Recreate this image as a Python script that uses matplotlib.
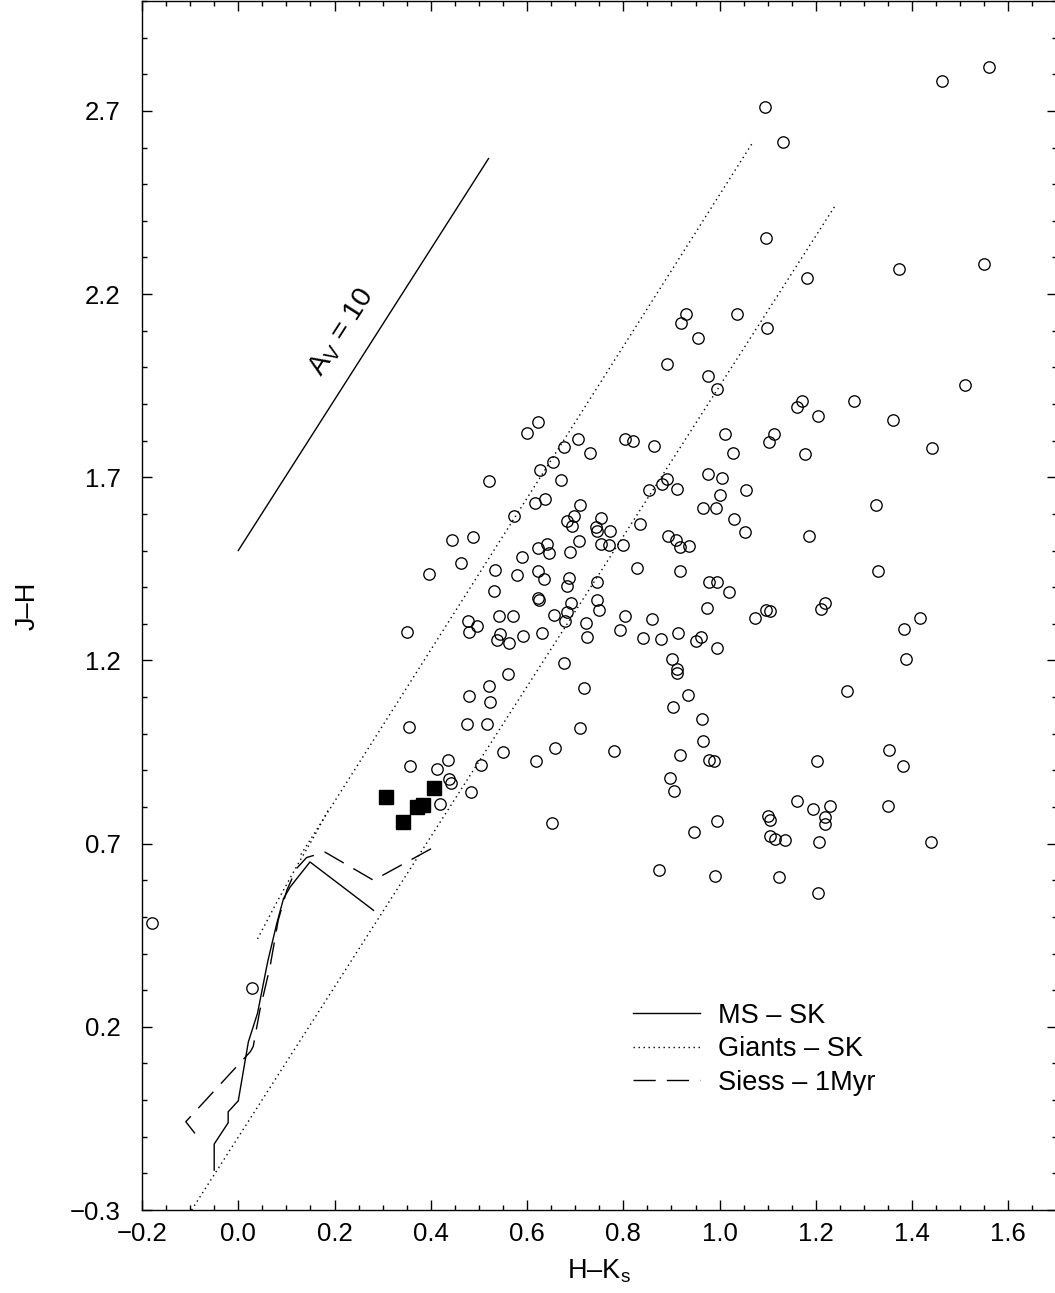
import matplotlib
matplotlib.use("Agg")
import matplotlib.pyplot as plt
from matplotlib.ticker import MultipleLocator, FixedLocator

plt.rcParams['font.family'] = ['Liberation Sans', 'DejaVu Sans']
plt.rcParams['mathtext.fontset'] = 'custom'
plt.rcParams['mathtext.rm'] = 'Liberation Sans'
plt.rcParams['mathtext.it'] = 'Liberation Sans:italic'
plt.rcParams['axes.unicode_minus'] = True

# ---------------- data ----------------
hk_obs = [0.622, 0.600, 0.706, 0.677, 0.731, 0.803, 0.821, 0.654, 0.627, 0.671, 0.520, 0.637, 0.616, 0.709,
          0.572, 0.698, 0.684, 0.693, 0.754, 0.744, 0.746, 0.773, 0.835, 0.444, 0.488, 0.641, 0.623, 0.646,
          0.708, 0.690, 0.754, 0.771, 0.799, 0.590, 0.463, 0.396, 0.533, 0.580, 0.622, 0.635, 0.687, 0.683,
          0.745, 0.829, 0.531, 0.623, 0.624, 0.691, 0.745, 0.749, 0.684, 0.657, 0.679, 0.722, 0.541, 0.571,
          0.477, 0.497, 0.803,
          1.160, 1.171, 1.279, 1.205, 0.864, 1.012, 1.114, 1.103, 1.028, 1.177, 0.976, 1.005, 0.890, 0.881,
          0.853, 0.912, 1.055, 1.000, 0.966, 0.992, 1.325, 1.029, 1.052, 1.186, 0.892, 0.910, 0.917, 0.936,
          0.917, 1.330, 0.977, 0.995, 1.019, 0.973, 0.860, 1.074, 1.096, 1.105, 1.218, 1.211, 0.914,
          0.350, 0.479, 0.537, 0.544, 0.563, 0.592, 0.632, 0.725, 0.793, 0.677, 0.561, 0.520, 0.479, 0.523,
          0.719, 0.354, 0.475, 0.516, 0.711, 0.658, 0.781, 0.549, 0.618, 0.504, 0.357, 0.412, 0.435, 0.438,
          0.441, 0.483, 0.420, 0.652,
          0.840, 0.878, 0.951, 0.961, 0.995, 0.901, 0.911, 0.912, 0.935, 0.904, 1.264, 0.963, 0.965, 0.918,
          0.979, 0.988, 1.203, 0.896, 0.906, 1.160, 1.194, 1.230, 1.219, 1.218, 0.994, 0.947, 1.101, 1.105,
          1.104, 1.116, 1.136, 1.207,
          1.560, 1.462, 1.094, 1.132, 1.096, 1.181, 1.373, 1.549, 0.930, 0.920, 0.955, 1.036, 1.099, 0.891,
          0.976, 0.995, 1.510, 1.360, 1.441, 1.416, 1.383, 1.387, 1.352, 1.381, 1.350, 1.439, 1.205, 1.124,
          0.991, 0.874, -0.179, 0.029]
jh_obs = [1.852, 1.820, 1.805, 1.783, 1.767, 1.804, 1.799, 1.742, 1.720, 1.692, 1.691, 1.640, 1.631, 1.623,
          1.593, 1.593, 1.580, 1.566, 1.589, 1.564, 1.553, 1.553, 1.573, 1.530, 1.537, 1.517, 1.508, 1.492,
          1.525, 1.496, 1.517, 1.516, 1.516, 1.483, 1.466, 1.435, 1.446, 1.433, 1.444, 1.423, 1.424, 1.404,
          1.413, 1.453, 1.389, 1.371, 1.364, 1.356, 1.364, 1.339, 1.332, 1.323, 1.309, 1.302, 1.322, 1.320,
          1.309, 1.293, 1.322,
          1.891, 1.907, 1.909, 1.868, 1.785, 1.819, 1.818, 1.795, 1.765, 1.764, 1.710, 1.697, 1.694, 1.682,
          1.664, 1.669, 1.666, 1.652, 1.617, 1.617, 1.624, 1.587, 1.550, 1.541, 1.541, 1.529, 1.511, 1.512,
          1.443, 1.444, 1.415, 1.413, 1.388, 1.343, 1.314, 1.317, 1.337, 1.334, 1.356, 1.341, 1.275,
          1.279, 1.279, 1.257, 1.272, 1.247, 1.268, 1.275, 1.265, 1.284, 1.194, 1.163, 1.129, 1.102, 1.086,
          1.124, 1.018, 1.026, 1.026, 1.016, 0.962, 0.952, 0.949, 0.925, 0.916, 0.913, 0.905, 0.929, 0.876,
          0.865, 0.840, 0.807, 0.756,
          1.260, 1.258, 1.254, 1.264, 1.233, 1.204, 1.178, 1.167, 1.105, 1.073, 1.116, 1.039, 0.979, 0.942,
          0.929, 0.925, 0.925, 0.878, 0.843, 0.816, 0.795, 0.802, 0.773, 0.753, 0.762, 0.733, 0.776, 0.764,
          0.720, 0.713, 0.709, 0.704,
          2.820, 2.782, 2.711, 2.616, 2.354, 2.245, 2.269, 2.283, 2.146, 2.122, 2.081, 2.146, 2.108, 2.010,
          1.977, 1.942, 1.953, 1.855, 1.781, 1.317, 1.285, 1.203, 0.955, 0.911, 0.802, 0.704, 0.565, 0.608,
          0.611, 0.628, 0.483, 0.306]

hk_sq = [0.307, 0.407, 0.383, 0.372, 0.342]
jh_sq = [0.827, 0.853, 0.805, 0.800, 0.758]

hk_ms = [-0.050, -0.050, -0.021, -0.021, 0.000, 0.021, 0.040, 0.061, 0.080, 0.094, 0.108, 0.149, 0.281]
jh_ms = [-0.191, -0.120, -0.062, -0.032, -0.002, 0.159, 0.237, 0.377, 0.482, 0.550, 0.582, 0.650, 0.518]

hk_siess = [-0.090, -0.109, 0.025, 0.031, 0.045, 0.066, 0.083, 0.101, 0.121, 0.142, 0.180, 0.281, 0.402]
jh_siess = [-0.091, -0.059, 0.132, 0.146, 0.246, 0.364, 0.491, 0.573, 0.632, 0.662, 0.677, 0.600, 0.687]

hk_giant = [0.040, 0.080, 0.120, 0.160, 0.188]
jh_giant = [0.440, 0.540, 0.635, 0.725, 0.795]

hk_red_up = [0.130, 1.067]
jh_red_up = [0.670, 2.610]
hk_red_lo = [-0.097, 1.240]
jh_red_lo = [-0.300, 2.441]

hk_av = [0.000, 0.520]
jh_av = [1.500, 2.570]

# ---------------- figure ----------------
FS = 19.5
fig = plt.figure(figsize=(10.55, 12.93), dpi=100)
ax = fig.add_axes([142 / 1055, 83 / 1293, 914.5 / 1055, 1209 / 1293])

dot = (0, (1.0, 2.6))
dash = (0, (16, 8))

ax.plot(hk_ms, jh_ms, color='black', lw=1.0, ls='-', label='MS \u2013 SK')
ax.plot(hk_giant, jh_giant, color='black', lw=1.0, ls=dot, label='Giants \u2013 SK')
ax.plot(hk_siess, jh_siess, color='black', lw=1.0, ls=dash, label='Siess \u2013 1Myr')
ax.plot(hk_red_up, jh_red_up, color='black', lw=1.0, ls=dot)
ax.plot(hk_red_lo, jh_red_lo, color='black', lw=1.0, ls=dot)
ax.plot(hk_av, jh_av, color='black', lw=1.0, ls='-')

ax.plot(hk_obs, jh_obs, ls='none', marker='o', ms=8.2, mfc='none', mec='black', mew=0.95)
ax.plot(hk_sq, jh_sq, ls='none', marker='s', ms=9.5, mfc='black', mec='black')

ax.text(0.216, 2.095, r'$\mathrm{A_V}$ = 10', rotation=57.4, rotation_mode='anchor',
        ha='center', va='center', fontsize=20.5)

ax.set_xlim(-0.2, 1.7)
ax.set_ylim(-0.3, 3.0)
ax.xaxis.set_major_locator(FixedLocator([-0.2, 0.0, 0.2, 0.4, 0.6, 0.8, 1.0, 1.2, 1.4, 1.6]))
ax.xaxis.set_minor_locator(MultipleLocator(0.05))
ax.yaxis.set_major_locator(FixedLocator([-0.3, 0.2, 0.7, 1.2, 1.7, 2.2, 2.7]))
ax.yaxis.set_minor_locator(FixedLocator([round(-0.3 + 0.1 * i, 2) for i in range(34)]))
ax.set_xticklabels(['\u22120.2', '0.0', '0.2', '0.4', '0.6', '0.8', '1.0', '1.2', '1.4', '1.6'])
ax.set_yticklabels(['\u22120.3', '0.2', '0.7', '1.2', '1.7', '2.2', '2.7'])

ax.tick_params(which='both', direction='in', top=True, right=True, width=1.0, labelsize=18.5)
ax.tick_params(which='major', length=7.2)
ax.tick_params(which='minor', length=3.6)
ax.tick_params(axis='x', which='major', pad=8.3)
ax.tick_params(axis='y', which='major', pad=15.5)
for s in ax.spines.values():
    s.set_linewidth(1.0)

ax.set_xlabel('H\u2013K$_\\mathrm{s}$', fontsize=FS)
ax.set_ylabel('J\u2013H', fontsize=FS)
ax.xaxis.set_label_coords(0.5, -0.0397)
ax.yaxis.set_label_coords(-0.111, 0.5)

ax.legend(loc='upper left', bbox_to_anchor=(0.537, 0.1715), frameon=False, fontsize=FS,
          handlelength=2.47, handletextpad=0.66, labelspacing=0.28, borderaxespad=0, borderpad=0)

fig.savefig('out.png', dpi=100)
